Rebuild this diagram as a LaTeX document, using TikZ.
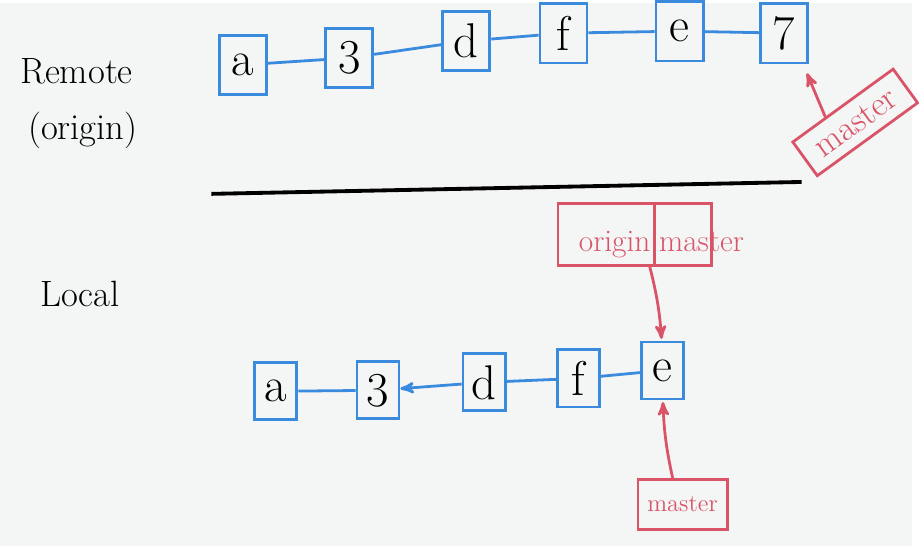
\documentclass[tikz,border=0pt]{standalone}
\usepackage{amsmath,amssymb}
\usepackage{color}
\usepackage{tikz}
\usetikzlibrary{arrows,backgrounds}

\definecolor{commitblue}{RGB}{58,138,222}
\definecolor{refred}{RGB}{218,84,104}
\definecolor{paper}{RGB}{244,245,245}

\begin{document}
\begin{tikzpicture}[x=0.02cm, y=-0.02cm, inner sep=0pt]

    \tikzstyle{commit}=[rectangle, draw=commitblue, line width=1.6pt, minimum width=0.95cm, minimum height=1.2cm, text=black, font=\fontsize{28}{30}\selectfont] \tikzstyle{lcommit}=[commit, minimum width=0.85cm, minimum height=1.15cm]
    \tikzstyle{link}=[draw=commitblue, line width=1.6pt] \tikzstyle{back}=[-stealth', draw=commitblue, line width=1.6pt]
    \tikzstyle{refbox}=[rectangle, draw=refred, line width=1.6pt, text=refred] \tikzstyle{ref}=[->, draw=refred, shorten >=1pt, >=stealth', line width=1.6pt]
    \tikzstyle{side}=[text=black, font=\fontsize{21}{24}\selectfont]

    \fill[paper] (0,0) rectangle (919,547);

    \node[side, anchor=west] (remote) at (20,68) {Remote}; \node[side, anchor=west] (origin) at (28,128) {(origin)}; \node[side, anchor=west] (local) at (40,293) {Local};

    % remote
    \node[commit] (ra) at (245,62) {a}; \node[commit] (r3) at (352,55) {3}; \node[commit] (rd) at (470,38) {d};
    \node[commit] (rf) at (568,30) {f}; \node[commit] (re) at (685,28) {e}; \node[commit] (r7) at (790,30) {7};
    \draw[link] (ra) -- (r3); \draw[link] (r3) -- (rd); \draw[link] (rd) -- (rf); \draw[link] (rf) -- (re); \draw[link] (re) -- (r7);

    \node[refbox, rotate=36, minimum width=2.5cm, minimum height=0.84cm, font=\fontsize{20}{22}\selectfont] (rmaster) at (862,120) {master};
    \draw[ref] ([xshift=-0.34cm,yshift=-0.25cm] rmaster.north) to ([xshift=-0.05cm,yshift=-0.15cm] r7.south east);

    \draw[black, line width=2.2pt] (213,192) -- (808,180);

    % local
    \node[lcommit] (la) at (278,391) {a}; \node[lcommit] (l3) at (381,390) {3}; \node[lcommit] (ld) at (488,382) {d};
    \node[lcommit] (lf) at (583,378) {f}; \node[lcommit] (le) at (668,370) {e};
    \draw[link] (la) -- (l3); \draw[back] (ld) -- (l3); \draw[link] (ld) -- (lf); \draw[link] (lf) -- (le);

    \node[refbox, minimum width=3.1cm, minimum height=1.25cm] (om) at (640,233) {};
    \node[text=refred, font=\fontsize{18}{20}\selectfont, anchor=base east] (omorigin) at (656,250) {origin};
    \node[text=refred, font=\fontsize{18}{20}\selectfont, anchor=base west] (ommaster) at (664,250) {master};
    \draw[refred, line width=1.6pt] ([xshift=0.4cm] om.north) -- ([xshift=0.4cm] om.south);
    \draw[ref] ([xshift=0.3cm] om.south) to[bend left=5] (le);

    \node[refbox, minimum width=1.8cm, minimum height=1.0cm, font=\fontsize{14}{16}\selectfont] (lmaster) at (688,505) {master};
    \draw[ref] ([xshift=-0.2cm] lmaster.north) to[bend left=5] (le);
  \end{tikzpicture}
\end{document}
